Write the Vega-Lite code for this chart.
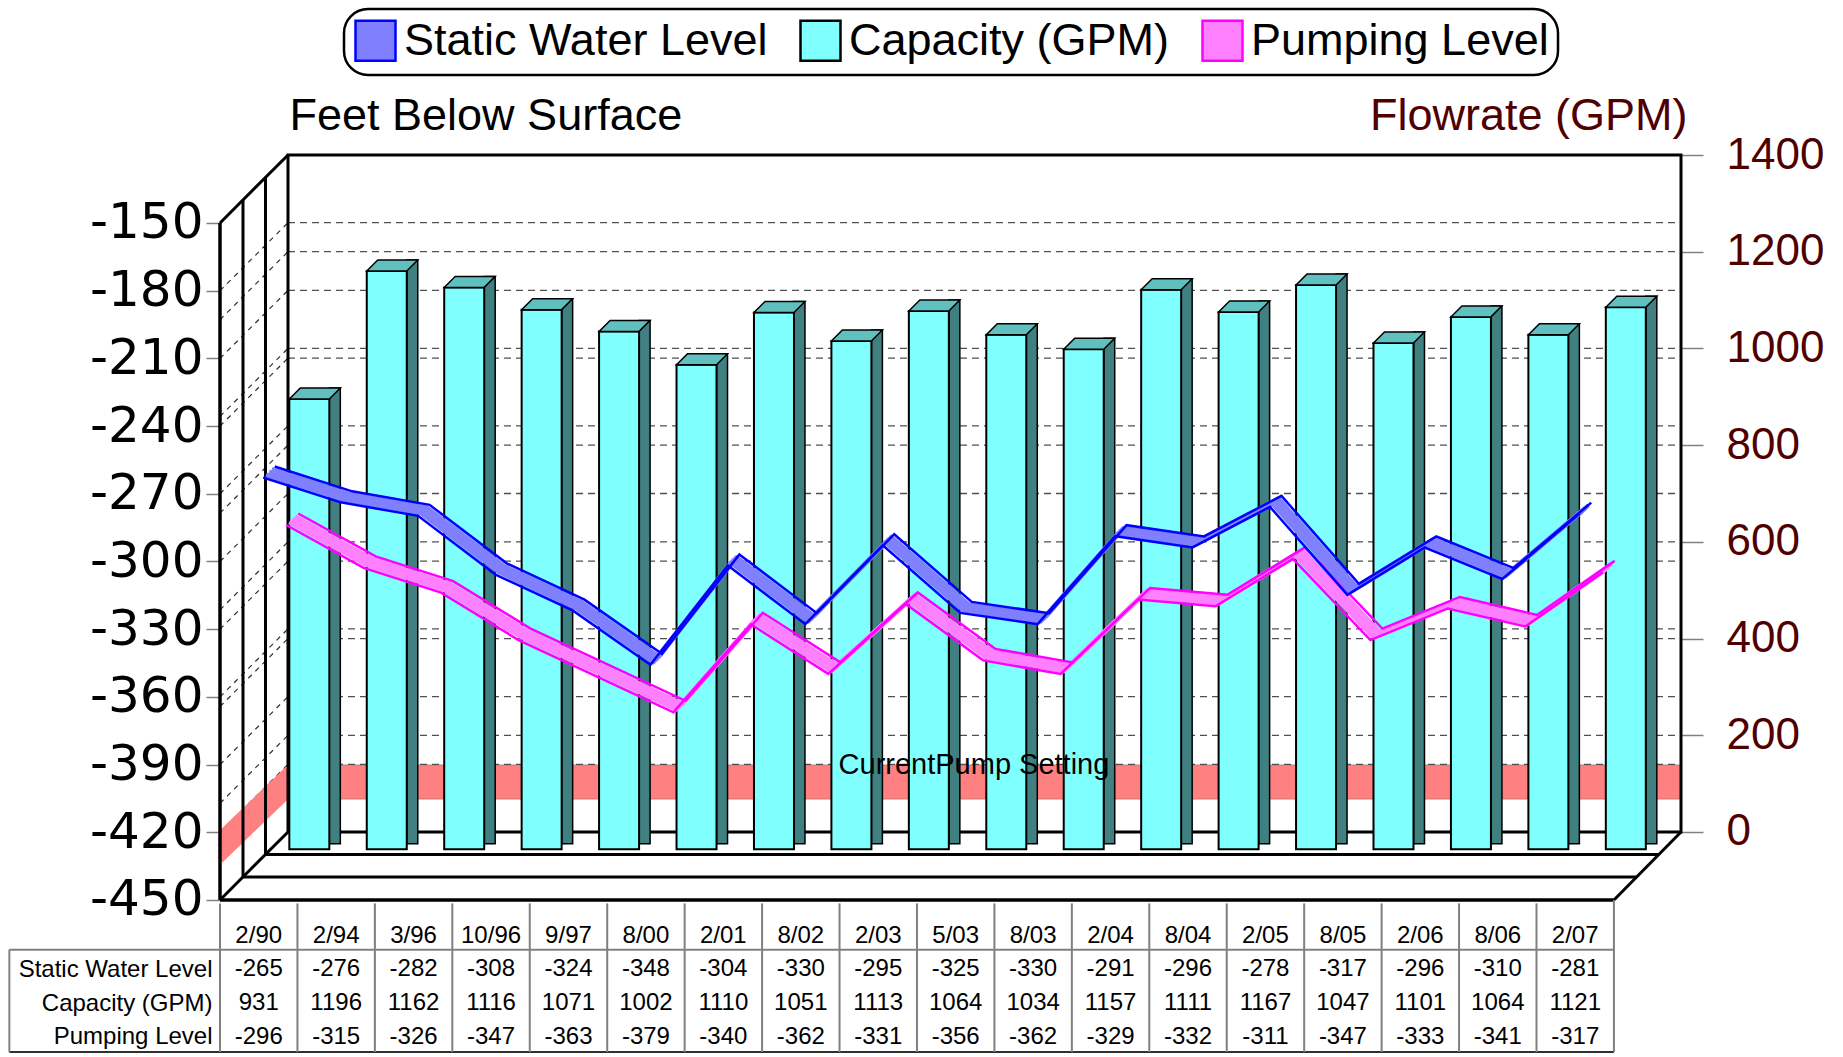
{
"$schema": "https://vega.github.io/schema/vega-lite/v6.json",
"width": 1461, "height": 898,
"autosize": {"type": "none"},
"padding": {"left": 220, "top": 155, "right": 162, "bottom": 4},
"background": "white",
"config": {"view": {"stroke": null}, "axis": {"disable": true}, "font": "Liberation Sans", "legend": {"strokeWidth": 2.5}},
"datasets": {
 "main": [
  {"date": "2/90", "static": -265, "capacity": 931, "pumping": -296},
  {"date": "2/94", "static": -276, "capacity": 1196, "pumping": -315},
  {"date": "3/96", "static": -282, "capacity": 1162, "pumping": -326},
  {"date": "10/96", "static": -308, "capacity": 1116, "pumping": -347},
  {"date": "9/97", "static": -324, "capacity": 1071, "pumping": -363},
  {"date": "8/00", "static": -348, "capacity": 1002, "pumping": -379},
  {"date": "2/01", "static": -304, "capacity": 1110, "pumping": -340},
  {"date": "8/02", "static": -330, "capacity": 1051, "pumping": -362},
  {"date": "2/03", "static": -295, "capacity": 1113, "pumping": -331},
  {"date": "5/03", "static": -325, "capacity": 1064, "pumping": -356},
  {"date": "8/03", "static": -330, "capacity": 1034, "pumping": -362},
  {"date": "2/04", "static": -291, "capacity": 1157, "pumping": -329},
  {"date": "8/04", "static": -296, "capacity": 1111, "pumping": -332},
  {"date": "2/05", "static": -278, "capacity": 1167, "pumping": -311},
  {"date": "8/05", "static": -317, "capacity": 1047, "pumping": -347},
  {"date": "2/06", "static": -296, "capacity": 1101, "pumping": -333},
  {"date": "8/06", "static": -310, "capacity": 1064, "pumping": -341},
  {"date": "2/07", "static": -281, "capacity": 1121, "pumping": -317}
 ],
 "feetTicks": [{"v": -180}, {"v": -210}, {"v": -240}, {"v": -270}, {"v": -300}, {"v": -330}, {"v": -360}, {"v": -390}, {"v": -420}],
 "gpmTicks": [{"v": 200}, {"v": 400}, {"v": 600}, {"v": 800}, {"v": 1000}, {"v": 1200}]
},
"resolve": {"scale": {"x": "independent", "y": "independent"}},
"layer": [
 {"data": {"values": [{}]},
  "mark": {"type": "rect", "fill": "#ff8080", "stroke": "#b07070", "strokeWidth": 0.8, "yOffset": -68, "y2Offset": -68},
  "encoding": {"x": {"datum": 0.878, "scale": {"domain": [0, 18.866], "nice": false, "zero": false}}, "x2": {"datum": 18.866},
   "y": {"datum": -420.3, "scale": {"domain": [-517.8, -119.87], "nice": false, "zero": false}}, "y2": {"datum": -435.4}}},
 {"data": {"name": "feetTicks"},
  "mark": {"type": "rule", "stroke": "#505050", "strokeWidth": 1.3, "strokeDash": [7, 5], "yOffset": -68},
  "encoding": {"x": {"datum": 0.878, "scale": {"domain": [0, 18.866], "nice": false, "zero": false}}, "x2": {"datum": 18.866},
   "y": {"field": "v", "type": "quantitative", "scale": {"domain": [-517.8, -119.87], "nice": false, "zero": false},
    "axis": {"orient": "left", "values": [-150, -180, -210, -240, -270, -300, -330, -360, -390, -420, -450], "domain": false, "grid": false, "ticks": true, "tickSize": 14, "tickColor": "#808080", "tickWidth": 1.5, "labelFont": "DejaVu Sans", "labelFontSize": 50, "labelColor": "black", "labelPadding": 3, "labelExpr": "'' + datum.value", "labelOverlap": false, "labelFlush": false, "title": "Feet Below Surface", "titleFont": "Liberation Sans", "titleFontSize": 45, "titleFontWeight": "normal", "titleColor": "black", "titleAngle": 0, "titleAlign": "left", "titleBaseline": "middle", "titleX": 69, "titleY": -40}}}},
 {"data": {"name": "gpmTicks"},
  "mark": {"type": "rule", "stroke": "#505050", "strokeWidth": 1.3, "strokeDash": [7, 5]},
  "encoding": {"x": {"datum": 0.878, "scale": {"domain": [0, 18.866], "nice": false, "zero": false}}, "x2": {"datum": 18.866},
   "y": {"field": "v", "type": "quantitative", "scale": {"domain": [-457.02, 1400], "nice": false, "zero": false},
    "axis": {"orient": "right", "values": [0, 200, 400, 600, 800, 1000, 1200, 1400], "domain": false, "grid": false, "ticks": true, "tickSize": 22, "tickColor": "#808080", "tickWidth": 1.5, "labelFont": "Liberation Sans", "labelFontSize": 44, "labelColor": "#500000", "labelPadding": 23, "labelExpr": "'' + datum.value", "labelOverlap": false, "labelFlush": false, "title": "Flowrate (GPM)", "titleFont": "Liberation Sans", "titleFontSize": 45, "titleFontWeight": "normal", "titleColor": "#500000", "titleAngle": 0, "titleAlign": "right", "titleBaseline": "middle", "titleX": 6, "titleY": -40}}}},
 {"data": {"name": "feetTicks"},
  "mark": {"type": "rule", "stroke": "#303030", "strokeWidth": 1.2, "strokeDash": [5, 5], "y2Offset": -68},
  "encoding": {"x": {"datum": 0, "scale": {"domain": [0, 18.866], "nice": false, "zero": false}}, "x2": {"datum": 0.878},
   "y": {"field": "v", "type": "quantitative", "scale": {"domain": [-517.8, -119.87], "nice": false, "zero": false}}, "y2": {"field": "v"}}},
 {"data": {"name": "gpmTicks"},
  "mark": {"type": "rule", "stroke": "#303030", "strokeWidth": 1.2, "strokeDash": [5, 5], "yOffset": 68},
  "encoding": {"x": {"datum": 0, "scale": {"domain": [0, 18.866], "nice": false, "zero": false}}, "x2": {"datum": 0.878},
   "y": {"field": "v", "type": "quantitative", "scale": {"domain": [-457.02, 1400], "nice": false, "zero": false}}, "y2": {"field": "v"}}},
 {"data": {"values": [{}]},
  "mark": {"type": "rule", "stroke": "#ff8080", "strokeWidth": 7, "strokeCap": "butt", "yOffset": -12.5, "y2Offset": -78},
  "encoding": {"x": {"datum": 0, "scale": {"domain": [0, 18.866], "nice": false, "zero": false}}, "x2": {"datum": 0.878},
   "y": {"datum": -426.7, "scale": {"domain": [-517.8, -119.87], "nice": false, "zero": false}}, "y2": {"datum": -426.7}}},
 {"data": {"values": [{}]},
  "mark": {"type": "rule", "stroke": "#ff8080", "strokeWidth": 7, "strokeCap": "butt", "yOffset": -6.25, "y2Offset": -71.75},
  "encoding": {"x": {"datum": 0, "scale": {"domain": [0, 18.866], "nice": false, "zero": false}}, "x2": {"datum": 0.878},
   "y": {"datum": -426.7, "scale": {"domain": [-517.8, -119.87], "nice": false, "zero": false}}, "y2": {"datum": -426.7}}},
 {"data": {"values": [{}]},
  "mark": {"type": "rule", "stroke": "#ff8080", "strokeWidth": 7, "strokeCap": "butt", "yOffset": 0, "y2Offset": -65.5},
  "encoding": {"x": {"datum": 0, "scale": {"domain": [0, 18.866], "nice": false, "zero": false}}, "x2": {"datum": 0.878},
   "y": {"datum": -426.7, "scale": {"domain": [-517.8, -119.87], "nice": false, "zero": false}}, "y2": {"datum": -426.7}}},
 {"data": {"values": [{}]},
  "mark": {"type": "rule", "stroke": "#ff8080", "strokeWidth": 7, "strokeCap": "butt", "yOffset": 6.25, "y2Offset": -59.25},
  "encoding": {"x": {"datum": 0, "scale": {"domain": [0, 18.866], "nice": false, "zero": false}}, "x2": {"datum": 0.878},
   "y": {"datum": -426.7, "scale": {"domain": [-517.8, -119.87], "nice": false, "zero": false}}, "y2": {"datum": -426.7}}},
 {"data": {"values": [{}]},
  "mark": {"type": "rule", "stroke": "#ff8080", "strokeWidth": 7, "strokeCap": "butt", "yOffset": 12.5, "y2Offset": -53},
  "encoding": {"x": {"datum": 0, "scale": {"domain": [0, 18.866], "nice": false, "zero": false}}, "x2": {"datum": 0.878},
   "y": {"datum": -426.7, "scale": {"domain": [-517.8, -119.87], "nice": false, "zero": false}}, "y2": {"datum": -426.7}}},
 {"data": {"values": [{}]},
  "mark": {"type": "rect", "filled": false, "stroke": "black", "strokeWidth": 3},
  "encoding": {"x": {"datum": 0.878, "scale": {"domain": [0, 18.866], "nice": false, "zero": false}}, "x2": {"datum": 18.866},
   "y": {"datum": 1400, "scale": {"domain": [-457.02, 1400], "nice": false, "zero": false}}, "y2": {"datum": 0}}},
 {"data": {"values": [{}]},
  "mark": {"type": "rule", "stroke": "black", "strokeWidth": 3.5},
  "encoding": {"x": {"datum": 0, "scale": {"domain": [0, 18.866], "nice": false, "zero": false}},
   "y": {"datum": -150, "scale": {"domain": [-517.8, -119.87], "nice": false, "zero": false}}, "y2": {"datum": -450}}},
 {"data": {"values": [{}]},
  "mark": {"type": "rule", "stroke": "black", "strokeWidth": 3, "yOffset": -23, "y2Offset": -23},
  "encoding": {"x": {"datum": 0.297, "scale": {"domain": [0, 18.866], "nice": false, "zero": false}},
   "y": {"datum": -150, "scale": {"domain": [-517.8, -119.87], "nice": false, "zero": false}}, "y2": {"datum": -450}}},
 {"data": {"values": [{}]},
  "mark": {"type": "rule", "stroke": "black", "strokeWidth": 3, "yOffset": -45.5, "y2Offset": -45.5},
  "encoding": {"x": {"datum": 0.5876, "scale": {"domain": [0, 18.866], "nice": false, "zero": false}},
   "y": {"datum": -150, "scale": {"domain": [-517.8, -119.87], "nice": false, "zero": false}}, "y2": {"datum": -450}}},
 {"data": {"values": [{}]},
  "mark": {"type": "rule", "stroke": "black", "strokeWidth": 3, "y2Offset": -68},
  "encoding": {"x": {"datum": 0, "scale": {"domain": [0, 18.866], "nice": false, "zero": false}}, "x2": {"datum": 0.878},
   "y": {"datum": -150, "scale": {"domain": [-517.8, -119.87], "nice": false, "zero": false}}, "y2": {"datum": -150}}},
 {"data": {"values": [{}]},
  "mark": {"type": "rule", "stroke": "black", "strokeWidth": 3, "y2Offset": -68},
  "encoding": {"x": {"datum": 0, "scale": {"domain": [0, 18.866], "nice": false, "zero": false}}, "x2": {"datum": 0.878},
   "y": {"datum": -450, "scale": {"domain": [-517.8, -119.87], "nice": false, "zero": false}}, "y2": {"datum": -450}}},
 {"data": {"values": [{}]},
  "mark": {"type": "rule", "stroke": "black", "strokeWidth": 3.5},
  "encoding": {"x": {"datum": 0, "scale": {"domain": [0, 18.866], "nice": false, "zero": false}}, "x2": {"datum": 18},
   "y": {"datum": -450, "scale": {"domain": [-517.8, -119.87], "nice": false, "zero": false}}}},
 {"data": {"values": [{}]},
  "mark": {"type": "rule", "stroke": "black", "strokeWidth": 3, "yOffset": -23},
  "encoding": {"x": {"datum": 0.297, "scale": {"domain": [0, 18.866], "nice": false, "zero": false}}, "x2": {"datum": 18.297},
   "y": {"datum": -450, "scale": {"domain": [-517.8, -119.87], "nice": false, "zero": false}}}},
 {"data": {"values": [{}]},
  "mark": {"type": "rule", "stroke": "black", "strokeWidth": 3, "yOffset": -45.5},
  "encoding": {"x": {"datum": 0.5876, "scale": {"domain": [0, 18.866], "nice": false, "zero": false}}, "x2": {"datum": 18.5876},
   "y": {"datum": -450, "scale": {"domain": [-517.8, -119.87], "nice": false, "zero": false}}}},
 {"data": {"values": [{}]},
  "mark": {"type": "rule", "stroke": "black", "strokeWidth": 3, "y2Offset": -68},
  "encoding": {"x": {"datum": 18, "scale": {"domain": [0, 18.866], "nice": false, "zero": false}}, "x2": {"datum": 18.866},
   "y": {"datum": -450, "scale": {"domain": [-517.8, -119.87], "nice": false, "zero": false}}, "y2": {"datum": -450}}},
 {"data": {"values": [{}]},
  "mark": {"type": "rule", "stroke": "#808080", "strokeWidth": 2},
  "encoding": {"x": {"datum": -2.72, "scale": {"domain": [0, 18.866], "nice": false, "zero": false}}, "x2": {"datum": 18},
   "y": {"datum": -472.0, "scale": {"domain": [-517.8, -119.87], "nice": false, "zero": false}}}},
 {"data": {"values": [{}]},
  "mark": {"type": "rule", "stroke": "#303030", "strokeWidth": 2},
  "encoding": {"x": {"datum": -2.72, "scale": {"domain": [0, 18.866], "nice": false, "zero": false}}, "x2": {"datum": 18},
   "y": {"datum": -517.4, "scale": {"domain": [-517.8, -119.87], "nice": false, "zero": false}}}},
 {"data": {"values": [{}]},
  "mark": {"type": "rule", "stroke": "#808080", "strokeWidth": 2},
  "encoding": {"x": {"datum": -2.72, "scale": {"domain": [0, 18.866], "nice": false, "zero": false}},
   "y": {"datum": -472.0, "scale": {"domain": [-517.8, -119.87], "nice": false, "zero": false}}, "y2": {"datum": -517.4}}},
 {"data": {"values": [{}]},
  "mark": {"type": "rule", "stroke": "#808080", "strokeWidth": 2},
  "encoding": {"x": {"datum": 18, "scale": {"domain": [0, 18.866], "nice": false, "zero": false}},
   "y": {"datum": -450, "scale": {"domain": [-517.8, -119.87], "nice": false, "zero": false}}, "y2": {"datum": -517.4}}},
 {"data": {"name": "main"},
  "mark": {"type": "rule", "stroke": "#808080", "strokeWidth": 2},
  "encoding": {"x": {"field": "date", "type": "nominal", "sort": null, "bandPosition": 0, "scale": {"type": "band", "paddingInner": 0, "paddingOuter": 0.433, "align": 0, "round": false}},
   "y": {"datum": -451.5, "scale": {"domain": [-517.8, -119.87], "nice": false, "zero": false}}, "y2": {"datum": -517.4}}},
 {"data": {"name": "main"},
  "mark": {"type": "bar", "width": 11, "xOffset": 76.1, "yOffset": 6.3, "y2Offset": 11.8, "fill": "#408080", "stroke": "black", "strokeWidth": 1.5},
  "encoding": {"x": {"field": "date", "type": "nominal", "sort": null, "scale": {"type": "band", "paddingInner": 0, "paddingOuter": 0.433, "align": 0, "round": false}},
   "y": {"field": "capacity", "type": "quantitative", "scale": {"domain": [-457.02, 1400], "nice": false, "zero": false}}, "y2": {"datum": 0}}},
 {"data": {"name": "main"},
  "transform": [{"fold": ["capacity"], "as": ["series", "gpm"]}],
  "mark": {"type": "bar", "width": 40, "xOffset": 50.6, "yOffset": 17.3, "y2Offset": 17.3, "strokeWidth": 2},
  "encoding": {"x": {"field": "date", "type": "nominal", "sort": null, "scale": {"type": "band", "paddingInner": 0, "paddingOuter": 0.433, "align": 0, "round": false}},
   "y": {"field": "gpm", "type": "quantitative", "scale": {"domain": [-457.02, 1400], "nice": false, "zero": false}}, "y2": {"datum": 0},
   "fill": {"field": "series", "type": "nominal", "scale": {"domain": ["static", "capacity", "pumping"], "range": ["#8080ff", "#80ffff", "#ff80ff"]},
    "legend": {"title": null, "orient": "none", "legendX": 124, "legendY": -146, "direction": "horizontal", "symbolType": "square", "symbolSize": 1600, "symbolStrokeWidth": 2.5, "labelFont": "Liberation Sans", "labelFontSize": 45, "labelColor": "black", "labelOffset": 6, "labelLimit": 1000, "columnPadding": 27, "padding": 9, "strokeColor": "black", "cornerRadius": 24, "fillColor": "white", "labelExpr": "datum.label == 'static' ? 'Static Water Level' : datum.label == 'capacity' ? 'Capacity (GPM)' : 'Pumping Level'"}},
   "stroke": {"field": "series", "type": "nominal", "scale": {"domain": ["static", "capacity", "pumping"], "range": ["#0000ff", "#000000", "#ff00ff"]},
    "legend": {"title": null, "orient": "none", "legendX": 124, "legendY": -146, "direction": "horizontal", "symbolType": "square", "symbolSize": 1600, "symbolStrokeWidth": 2.5, "labelFont": "Liberation Sans", "labelFontSize": 45, "labelColor": "black", "labelOffset": 6, "labelLimit": 1000, "columnPadding": 27, "padding": 9, "strokeColor": "black", "cornerRadius": 24, "fillColor": "white", "labelExpr": "datum.label == 'static' ? 'Static Water Level' : datum.label == 'capacity' ? 'Capacity (GPM)' : 'Pumping Level'"}}}},
 {"data": {"name": "main"},
  "mark": {"type": "point", "shape": "M -1 0.2157 L 0.5686 0.2157 L 1 -0.2157 L -0.5686 -0.2157 Z", "size": 2601, "filled": true, "fill": "#60c0c0", "stroke": "black", "strokeWidth": 1.5, "opacity": 1, "xOffset": 56.1, "yOffset": 11.8},
  "encoding": {"x": {"field": "date", "type": "nominal", "sort": null, "scale": {"type": "band", "paddingInner": 0, "paddingOuter": 0.433, "align": 0, "round": false}},
   "y": {"field": "capacity", "type": "quantitative", "scale": {"domain": [-457.02, 1400], "nice": false, "zero": false}}}},
 {"data": {"values": [{}]},
  "mark": {"type": "text", "text": "CurrentPump Setting", "font": "Liberation Sans", "fontSize": 29, "color": "black", "align": "center", "baseline": "middle", "yOffset": -68},
  "encoding": {"x": {"datum": 9.736, "scale": {"domain": [0, 18.866], "nice": false, "zero": false}},
   "y": {"datum": -420.3, "scale": {"domain": [-517.8, -119.87], "nice": false, "zero": false}}}},
 {"data": {"name": "main"}, "mark": {"type": "line", "stroke": "#ff80ff", "strokeWidth": 4.5, "strokeJoin": "round", "xOffset": 30.5, "yOffset": -30.4},
  "encoding": {"x": {"field": "date", "type": "nominal", "sort": null, "scale": {"type": "band", "paddingInner": 0, "paddingOuter": 0.433, "align": 0, "round": false}},
   "y": {"field": "pumping", "type": "quantitative", "scale": {"domain": [-517.8, -119.87], "nice": false, "zero": false}}}},
 {"data": {"name": "main"}, "mark": {"type": "line", "stroke": "#ff80ff", "strokeWidth": 4.5, "strokeJoin": "round", "xOffset": 33.5, "yOffset": -33.3},
  "encoding": {"x": {"field": "date", "type": "nominal", "sort": null, "scale": {"type": "band", "paddingInner": 0, "paddingOuter": 0.433, "align": 0, "round": false}},
   "y": {"field": "pumping", "type": "quantitative", "scale": {"domain": [-517.8, -119.87], "nice": false, "zero": false}}}},
 {"data": {"name": "main"}, "mark": {"type": "line", "stroke": "#ff80ff", "strokeWidth": 4.5, "strokeJoin": "round", "xOffset": 36.5, "yOffset": -36.1},
  "encoding": {"x": {"field": "date", "type": "nominal", "sort": null, "scale": {"type": "band", "paddingInner": 0, "paddingOuter": 0.433, "align": 0, "round": false}},
   "y": {"field": "pumping", "type": "quantitative", "scale": {"domain": [-517.8, -119.87], "nice": false, "zero": false}}}},
 {"data": {"name": "main"}, "mark": {"type": "line", "stroke": "#ff00ff", "strokeWidth": 2.5, "strokeJoin": "miter", "xOffset": 27.5, "yOffset": -27.5},
  "encoding": {"x": {"field": "date", "type": "nominal", "sort": null, "scale": {"type": "band", "paddingInner": 0, "paddingOuter": 0.433, "align": 0, "round": false}},
   "y": {"field": "pumping", "type": "quantitative", "scale": {"domain": [-517.8, -119.87], "nice": false, "zero": false}}}},
 {"data": {"name": "main"}, "mark": {"type": "line", "stroke": "#ff00ff", "strokeWidth": 2.5, "strokeJoin": "miter", "xOffset": 39.5, "yOffset": -39},
  "encoding": {"x": {"field": "date", "type": "nominal", "sort": null, "scale": {"type": "band", "paddingInner": 0, "paddingOuter": 0.433, "align": 0, "round": false}},
   "y": {"field": "pumping", "type": "quantitative", "scale": {"domain": [-517.8, -119.87], "nice": false, "zero": false}}}},
 {"data": {"name": "main"}, "mark": {"type": "line", "stroke": "#8080ff", "strokeWidth": 4.5, "strokeJoin": "round", "xOffset": 7.4, "yOffset": -7.75},
  "encoding": {"x": {"field": "date", "type": "nominal", "sort": null, "scale": {"type": "band", "paddingInner": 0, "paddingOuter": 0.433, "align": 0, "round": false}},
   "y": {"field": "static", "type": "quantitative", "scale": {"domain": [-517.8, -119.87], "nice": false, "zero": false}}}},
 {"data": {"name": "main"}, "mark": {"type": "line", "stroke": "#8080ff", "strokeWidth": 4.5, "strokeJoin": "round", "xOffset": 10.25, "yOffset": -10.5},
  "encoding": {"x": {"field": "date", "type": "nominal", "sort": null, "scale": {"type": "band", "paddingInner": 0, "paddingOuter": 0.433, "align": 0, "round": false}},
   "y": {"field": "static", "type": "quantitative", "scale": {"domain": [-517.8, -119.87], "nice": false, "zero": false}}}},
 {"data": {"name": "main"}, "mark": {"type": "line", "stroke": "#8080ff", "strokeWidth": 4.5, "strokeJoin": "round", "xOffset": 13.1, "yOffset": -13.25},
  "encoding": {"x": {"field": "date", "type": "nominal", "sort": null, "scale": {"type": "band", "paddingInner": 0, "paddingOuter": 0.433, "align": 0, "round": false}},
   "y": {"field": "static", "type": "quantitative", "scale": {"domain": [-517.8, -119.87], "nice": false, "zero": false}}}},
 {"data": {"name": "main"}, "mark": {"type": "line", "stroke": "#0000ff", "strokeWidth": 2.5, "strokeJoin": "miter", "xOffset": 4.5, "yOffset": -5},
  "encoding": {"x": {"field": "date", "type": "nominal", "sort": null, "scale": {"type": "band", "paddingInner": 0, "paddingOuter": 0.433, "align": 0, "round": false}},
   "y": {"field": "static", "type": "quantitative", "scale": {"domain": [-517.8, -119.87], "nice": false, "zero": false}}}},
 {"data": {"name": "main"}, "mark": {"type": "line", "stroke": "#0000ff", "strokeWidth": 2.5, "strokeJoin": "miter", "xOffset": 16, "yOffset": -16},
  "encoding": {"x": {"field": "date", "type": "nominal", "sort": null, "scale": {"type": "band", "paddingInner": 0, "paddingOuter": 0.433, "align": 0, "round": false}},
   "y": {"field": "static", "type": "quantitative", "scale": {"domain": [-517.8, -119.87], "nice": false, "zero": false}}}},
 {"data": {"name": "main"},
  "transform": [{"fold": ["date", "static", "capacity", "pumping"], "as": ["key", "val"]}],
  "mark": {"type": "text", "font": "Liberation Sans", "fontSize": 24, "color": "black", "align": "center", "baseline": "middle"},
  "encoding": {"x": {"field": "date", "type": "nominal", "sort": null, "scale": {"type": "band", "paddingInner": 0, "paddingOuter": 0.433, "align": 0, "round": false}},
   "y": {"field": "key", "type": "nominal", "scale": {"type": "point", "domain": ["date", "static", "capacity", "pumping"], "range": [780.6, 881.7], "padding": 0},
    "axis": {"orient": "left", "domain": false, "ticks": false, "grid": false, "labelFont": "Liberation Sans", "labelFontSize": 24, "labelColor": "black", "labelPadding": 8, "labelLimit": 400, "labelOverlap": false, "title": null,
     "labelExpr": "datum.value == 'static' ? 'Static Water Level' : datum.value == 'capacity' ? 'Capacity (GPM)' : datum.value == 'pumping' ? 'Pumping Level' : ''"}},
   "text": {"field": "val", "type": "nominal"}}}
]
}
